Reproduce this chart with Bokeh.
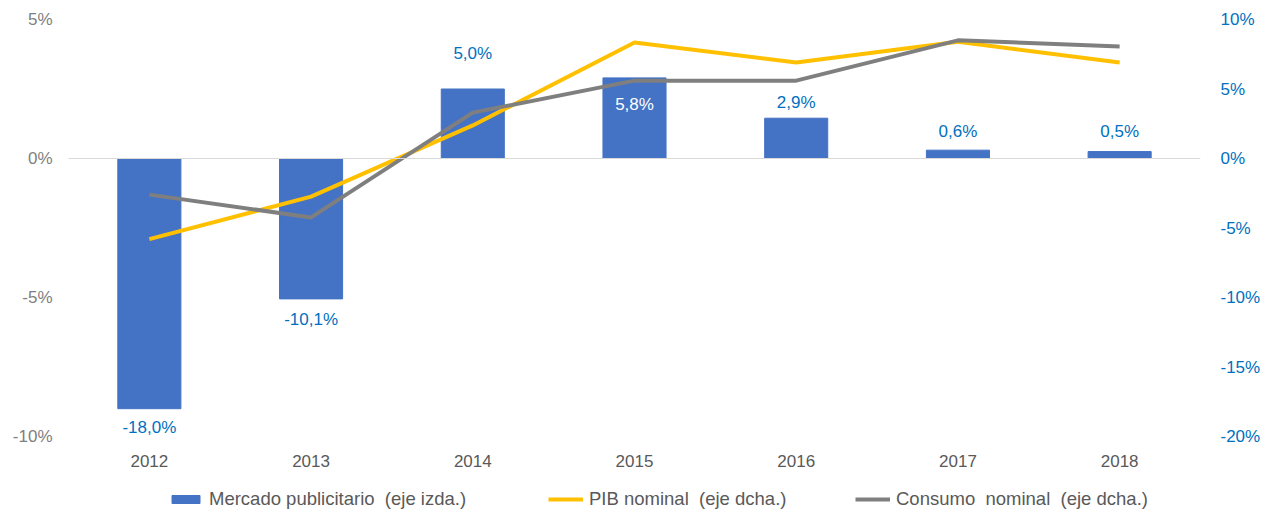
from bokeh.plotting import figure
from bokeh.layouts import column
from bokeh.models import (FactorRange, Range1d, LinearAxis, FixedTicker, PrintfTickFormatter,
                          Span, ColumnDataSource, Legend, LegendItem)
from bokeh.core.properties import value
from bokeh.embed import file_html
from bokeh.resources import INLINE

years = ["2012", "2013", "2014", "2015", "2016", "2017", "2018"]
mercado = [-18.0, -10.1, 5.0, 5.8, 2.9, 0.6, 0.5]
pib = [-2.9, -1.37, 1.19, 4.17, 3.45, 4.2, 3.45]
consumo = [-1.3, -2.12, 1.65, 2.8, 2.8, 4.25, 4.03]
left_ticks = [-10, -5, 0, 5]
right_ticks = [-20, -15, -10, -5, 0, 5, 10]
series_names = ["Mercado publicitario  (eje izda.)", "PIB nominal  (eje dcha.)",
                "Consumo  nominal  (eje dcha.)"]

FONT = "Liberation Sans"
BLUE = "#4472C4"
YELLOW = "#FFC000"
GREY = "#7F7F7F"
LBLUE = "#0070C0"
W = 1268

p = figure(width=W, height=480, x_range=FactorRange(*years), y_range=Range1d(-20, 10),
           output_backend="svg", toolbar_location=None, y_axis_location=None,
           min_border_left=68, min_border_right=68, min_border_top=19, min_border_bottom=44)
p.extra_y_ranges = {"left": Range1d(-10, 5)}
p.outline_line_color = None
p.xgrid.visible = False
p.ygrid.visible = False

def style_axis(ax, color):
    ax.axis_line_color = None
    ax.major_tick_line_color = None
    ax.minor_tick_line_color = None
    ax.major_tick_out = 0
    ax.major_tick_in = 0
    ax.minor_tick_out = 0
    ax.minor_tick_in = 0
    ax.major_label_text_font = FONT
    ax.major_label_text_font_size = "17px"
    ax.major_label_text_color = color

ax_l = LinearAxis(y_range_name="left", ticker=FixedTicker(ticks=left_ticks),
                  formatter=PrintfTickFormatter(format="%d%%"))
style_axis(ax_l, "#808080")
ax_l.major_label_standoff = 16
p.add_layout(ax_l, "left")

ax_r = LinearAxis(ticker=FixedTicker(ticks=right_ticks), formatter=PrintfTickFormatter(format="%d%%"))
style_axis(ax_r, LBLUE)
ax_r.major_label_standoff = 20
p.add_layout(ax_r, "right")

style_axis(p.xaxis[0], "#595959")
p.xaxis[0].major_label_standoff = 18

p.add_layout(Span(location=0, dimension="width", line_color="#D9D9D9", line_width=1))

bars = p.vbar(x=years, top=mercado, bottom=0, width=0.39, fill_color=BLUE, line_color=BLUE)
l_pib = p.line(years, pib, y_range_name="left", line_color=YELLOW, line_width=4, line_join="round")
l_con = p.line(years, consumo, y_range_name="left", line_color=GREY, line_width=4, line_join="round")

labels = [("%.1f%%" % v).replace(".", ",") for v in mercado]
offsets = [19, 21, -36, 27, -16, -19, -20]
colors = [LBLUE, LBLUE, LBLUE, "white", LBLUE, LBLUE, LBLUE]
src = ColumnDataSource(dict(x=years, y=mercado, t=labels, o=offsets, c=colors))
p.text(x="x", y="y", text="t", y_offset="o", text_color="c", source=src,
       text_align="center", text_baseline="middle",
       text_font=value(FONT), text_font_size="17px")

# legend strip below the chart (hidden copies of the series supply the legend glyphs)
q = figure(width=W, height=34, x_range=FactorRange(*years), y_range=Range1d(-20, 10),
           output_backend="svg", toolbar_location=None,
           x_axis_location=None, y_axis_location=None,
           min_border_left=68, min_border_right=68, min_border_top=0, min_border_bottom=0)
q.outline_line_color = None
q.xgrid.visible = False
q.ygrid.visible = False
k_bar = q.vbar(x=years, top=mercado, bottom=0, width=0.39, fill_color=BLUE, line_color=BLUE)
k_pib = q.line(years, pib, line_color=YELLOW, line_width=4)
k_con = q.line(years, consumo, line_color=GREY, line_width=4)
for r in (k_bar, k_pib, k_con):
    r.visible = False

for lab, rend, xloc in zip(series_names, [k_bar, k_pib, k_con], [100, 480, 787]):
    lg = Legend(items=[LegendItem(label=lab, renderers=[rend])], location=(xloc, 4),
                orientation="horizontal", padding=0, margin=0, spacing=0,
                glyph_width=35, glyph_height=10, label_standoff=6, label_height=20,
                border_line_color=None, background_fill_alpha=0,
                label_text_font=FONT, label_text_font_size="18.5px", label_text_color="#595959")
    q.add_layout(lg)

open("out.html", "w").write(file_html(column(p, q, spacing=0), INLINE))
